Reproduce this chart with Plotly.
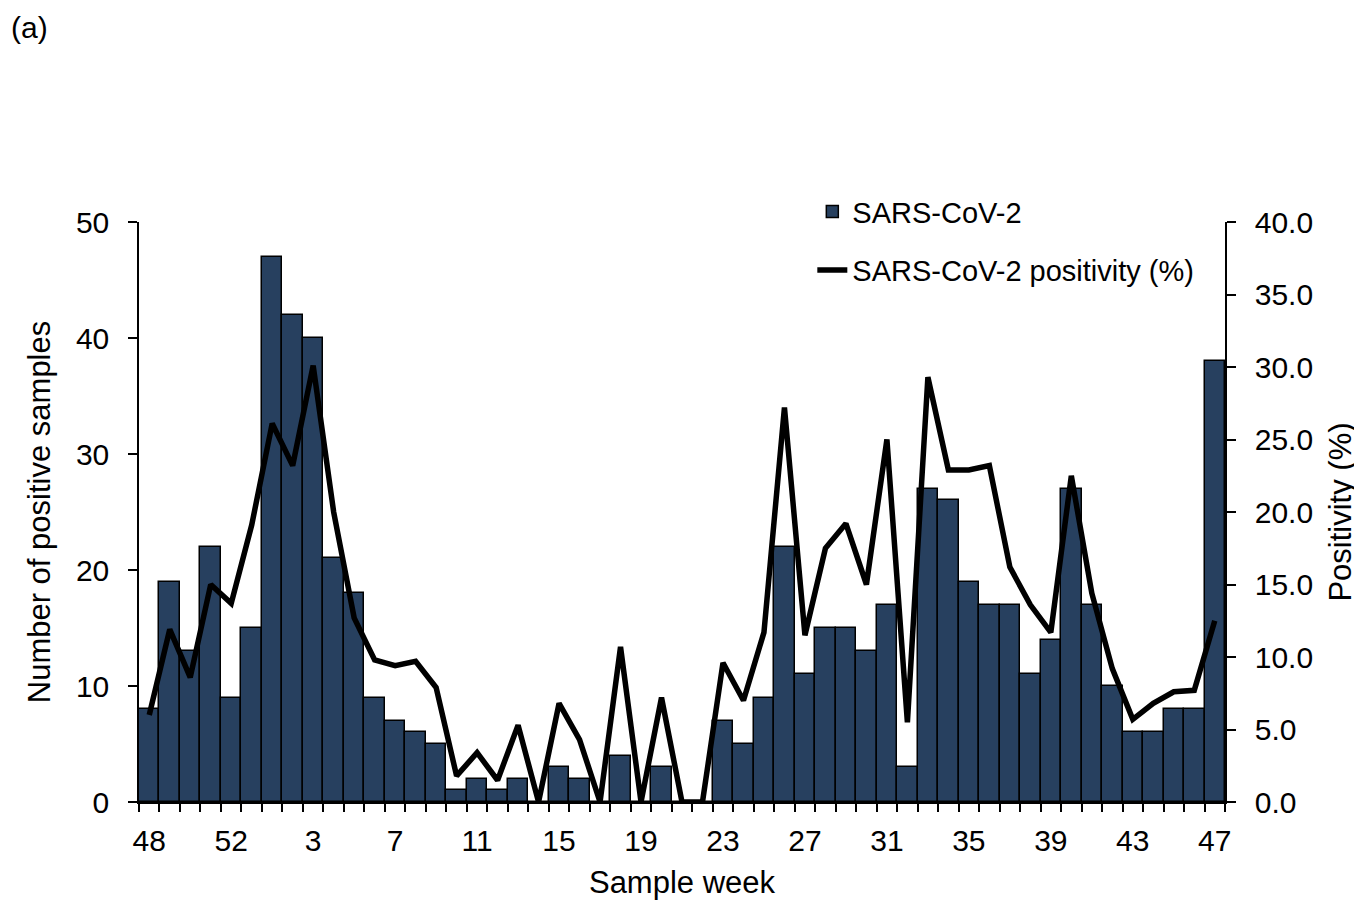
import plotly.graph_objects as go

weeks = [48, 49, 50, 51, 52, 53] + list(range(1, 48))
positives = [8, 19, 13, 22, 9, 15, 47, 42, 40, 21, 18, 9, 7, 6, 5, 1, 2, 1, 2, 0,
             3, 2, 0, 4, 0, 3, 0, 0, 7, 5, 9, 22, 11, 15, 15, 13, 17, 3, 27, 26,
             19, 17, 17, 11, 14, 27, 17, 10, 6, 6, 8, 8, 38]
positivity = [6.0, 11.9, 8.6, 15.0, 13.7, 19.1, 26.1, 23.2, 30.1, 20.0, 12.7, 9.8, 9.4, 9.7,
              7.9, 1.8, 3.4, 1.5, 5.3, 0.0, 6.8, 4.3, 0.0, 10.7, 0.0, 7.2, 0.0, 0.0,
              9.6, 7.0, 11.7, 27.2, 11.5, 17.5, 19.2, 15.0, 25.0, 5.5, 29.3, 22.9,
              22.9, 23.2, 16.2, 13.6, 11.7, 22.5, 14.4, 9.2, 5.7, 6.8, 7.6, 7.7, 12.5]

idx = list(range(len(weeks)))
tick_idx = idx[::4]
tick_text = [str(weeks[i]) for i in tick_idx]

FONT = "Liberation Sans, Arial, sans-serif"

fig = go.Figure()
fig.add_trace(go.Bar(
    x=idx, y=positives, name="SARS-CoV-2",
    marker=dict(color="#27405f", line=dict(color="black", width=1.5)),
    width=1.0, legendgroup="a",
))
fig.add_trace(go.Scatter(
    x=idx, y=positivity, name="SARS-CoV-2 positivity (%)", yaxis="y2",
    mode="lines", line=dict(color="black", width=5.5), legendgroup="b",
))

fig.update_layout(
    width=1354, height=892,
    margin=dict(l=131, r=137, t=214, b=98),
    paper_bgcolor="white", plot_bgcolor="white",
    font=dict(family=FONT, size=30, color="black"),
    bargap=0,
    showlegend=True,
    legend=dict(x=0.620, y=1.062, xanchor="left", yanchor="top",
                font=dict(size=29), bgcolor="rgba(0,0,0,0)",
                tracegroupgap=18, traceorder="grouped", itemwidth=30),
    xaxis=dict(
        range=[-0.5, len(weeks) - 0.5], tickmode="array", tickvals=tick_idx, ticktext=tick_text,
        ticks="outside", ticklen=0, showline=True, linecolor="black", linewidth=1.5,
        showgrid=False, zeroline=False, ticklabelstandoff=11, automargin=False,
        minor=dict(tick0=-0.5, dtick=1, ticks="outside", ticklen=8, tickcolor="black",
                   tickwidth=1.5, showgrid=False),
        title=dict(text="Sample week", standoff=17, font=dict(size=31)),
        tickfont=dict(size=30),
    ),
    yaxis=dict(
        range=[0, 50], dtick=10, ticks="outside", ticklen=9, tickcolor="black", tickwidth=1.5,
        showline=True, linecolor="black", linewidth=1.5, showgrid=False, zeroline=False,
        title=dict(text="Number of positive samples", standoff=16, font=dict(size=31)),
        tickfont=dict(size=30), ticklabelstandoff=13, automargin=False,
    ),
    yaxis2=dict(
        range=[0, 40], dtick=5, tickformat=".1f", overlaying="y", side="right",
        ticks="outside", ticklen=9, tickcolor="black", tickwidth=1.5,
        showline=True, linecolor="black", linewidth=1.5, showgrid=False, zeroline=False,
        title=dict(text="Positivity (%)", standoff=17, font=dict(size=31)),
        tickfont=dict(size=30), ticklabelstandoff=13, automargin=False,
    ),
)
fig.add_annotation(text="(a)", xref="paper", yref="paper", x=-0.1198, y=1.3345,
                   xanchor="left", yanchor="middle", showarrow=False, font=dict(size=30))

fig.write_html("out.html")
